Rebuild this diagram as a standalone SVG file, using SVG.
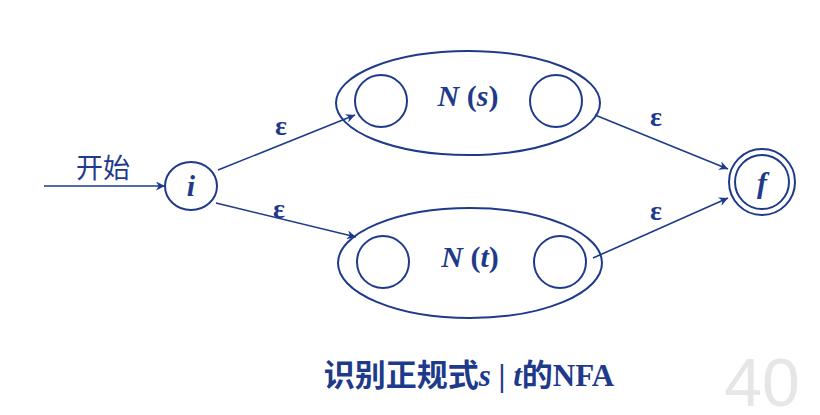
<svg xmlns="http://www.w3.org/2000/svg" width="820" height="415" viewBox="0 0 820 415">
<defs>
<marker id="arr" viewBox="0 0 10 10" refX="10" refY="5" markerWidth="9" markerHeight="9" markerUnits="userSpaceOnUse" orient="auto"><path d="M0,0 L10,5 L0,10 L3,5 z" fill="#1E3A8A"/></marker>
<style>
.s{fill:none;stroke:#1E3A8A;stroke-width:2}
.c{fill:none;stroke:#1E3A8A;stroke-width:1.6;marker-end:url(#arr)}
.t{font-family:"Liberation Serif",serif;fill:#1E3A8A;font-weight:bold;font-style:italic;font-size:30px;text-anchor:middle}
.e{font-family:"Liberation Serif",serif;fill:#1E3A8A;font-weight:bold;font-size:28px;text-anchor:middle}
</style>
</defs>
<rect width="820" height="415" fill="#fff"/>
<g id="connectors">
<line class="c" x1="44" y1="186" x2="165" y2="186"/>
<line class="c" x1="218" y1="170" x2="355" y2="115"/>
<line class="c" x1="216" y1="203" x2="356" y2="237"/>
<line class="c" x1="595" y1="115" x2="728" y2="169"/>
<line class="c" x1="593" y1="258" x2="728" y2="198"/>
<text class="e" x="281" y="135">ε</text>
<text class="e" x="279" y="218">ε</text>
<text class="e" x="656" y="126">ε</text>
<text class="e" x="656" y="220">ε</text>
<text x="103" y="178" font-family="'Noto Sans CJK SC',sans-serif" font-size="27" fill="#1E3A8A" text-anchor="middle">开始</text>
</g>
<g id="i"><ellipse class="s" cx="191" cy="186" rx="26" ry="24"/><text class="t" x="191" y="196">i</text></g>
<g id="Ns">
<ellipse class="s" cx="468" cy="103" rx="132" ry="52"/>
<circle class="s" cx="381" cy="101" r="26"/><circle class="s" cx="556" cy="101" r="26"/>
<text class="t" x="468" y="106"><tspan>N </tspan><tspan font-style="normal">(</tspan>s<tspan font-style="normal">)</tspan></text>
</g>
<g id="Nt">
<ellipse class="s" cx="470" cy="263" rx="132" ry="55"/>
<circle class="s" cx="383" cy="262" r="26"/><circle class="s" cx="560" cy="262" r="26"/>
<text class="t" x="470" y="267"><tspan>N </tspan><tspan font-style="normal">(</tspan>t<tspan font-style="normal">)</tspan></text>
</g>
<g id="f"><circle class="s" cx="762" cy="182" r="33"/><circle class="s" cx="762" cy="182" r="27"/><text class="t" x="762" y="193">f</text></g>
<text x="469" y="386" font-family="'Liberation Serif','Noto Sans CJK SC',serif" font-weight="bold" font-size="31" fill="#1E3A8A" text-anchor="middle">识别正规式<tspan font-style="italic">s</tspan> | <tspan font-style="italic">t</tspan>的NFA</text>
<text x="762" y="406" font-family="'Liberation Sans',sans-serif" font-size="68" fill="#E6E6E6" text-anchor="middle">40</text>
</svg>
